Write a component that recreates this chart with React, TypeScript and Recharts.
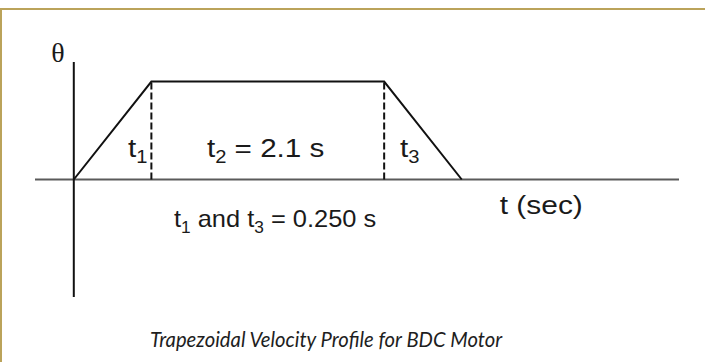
import { LineChart, Line, XAxis, YAxis, ReferenceLine, ReferenceDot } from "recharts";

// trapezoidal profile, schematic time units (drawing is not to scale)
const times = [0, 1, 4, 5];
const theta = [0, 1, 1, 0];
const phaseEdges = [1, 4];

const axisLabel = "t (sec)";
const angleLabel = "θ";
const t2Text = " = 2.1 s";
const t13Text = ["t", "1", " and t", "3", " = 0.250 s"];
const caption = "Trapezoidal Velocity Profile for BDC Motor";

const data = times.map((t, i) => ({ t, v: theta[i] }));

const ink = "#1a1a1a";
const sans = "'Liberation Sans', Arial, sans-serif";

type Piece = { s: string; sub?: boolean };

const Txt = ({ cx, cy, pieces, size = 26, sx = 1.14, font = sans, anchor = "start" }: any) => (
  <text
    transform={`translate(${cx},${cy}) scale(${sx},1)`}
    x={0}
    y={0}
    fill={ink}
    fontSize={size}
    fontFamily={font}
    textAnchor={anchor}
    style={{ whiteSpace: "pre" }}
  >
    {(pieces as Piece[]).map((p, i) => (
      <tspan
        key={i}
        fontSize={p.sub ? size * 0.68 : size}
        dy={p.sub ? 6 : i > 0 && (pieces as Piece[])[i - 1].sub ? -6 : 0}
      >
        {p.s}
      </tspan>
    ))}
  </text>
);

export default function App() {
  return (
    <div style={{ position: "absolute", left: 0, top: 0, width: 705, height: 362, background: "#fff" }}>
      <div
        style={{
          position: "absolute",
          left: 0,
          top: 8,
          width: 705,
          height: 354,
          borderTop: "2px solid #bba35a",
          borderLeft: "2px solid #bba35a",
          boxSizing: "border-box",
        }}
      />
      <LineChart
        width={705}
        height={362}
        data={data}
        margin={{ top: 62, right: 26, bottom: 65, left: 35 }}
        style={{ position: "absolute", left: 0, top: 0 }}
      >
        <XAxis type="number" dataKey="t" domain={[-0.5, 7.8]} hide />
        <YAxis type="number" domain={[-1.2, 1.2]} hide />
        <ReferenceLine
          segment={[{ x: -0.5, y: 0 }, { x: 7.8, y: 0 }]}
          stroke="#5a5a5a"
          strokeWidth={2}
          ifOverflow="visible"
        />
        <ReferenceLine
          segment={[{ x: 0, y: -1.2 }, { x: 0, y: 1.2 }]}
          stroke="#111"
          strokeWidth={2}
          ifOverflow="visible"
        />
        {phaseEdges.map((x) => (
          <ReferenceLine
            key={x}
            segment={[{ x, y: 0 }, { x, y: 1 }]}
            stroke="#111"
            strokeWidth={2}
            strokeDasharray="7 3"
            ifOverflow="visible"
          />
        ))}
        <Line
          type="linear"
          dataKey="v"
          stroke="#111"
          strokeWidth={2}
          dot={false}
          isAnimationActive={false}
        />
        <ReferenceDot
          x={-0.204}
          y={1.2}
          r={0}
          ifOverflow="visible"
          shape={(p: any) => (
            <Txt cx={p.cx} cy={p.cy} pieces={[{ s: angleLabel }]} size={28} sx={1} anchor="middle" font="'Liberation Serif', 'Times New Roman', serif" />
          )}
        />
        <ReferenceDot
          x={0.698}
          y={0.231}
          r={0}
          ifOverflow="visible"
          shape={(p: any) => <Txt cx={p.cx} cy={p.cy} pieces={[{ s: "t" }, { s: "1", sub: true }]} />}
        />
        <ReferenceDot
          x={1.716}
          y={0.231}
          r={0}
          ifOverflow="visible"
          shape={(p: any) => <Txt cx={p.cx} cy={p.cy} pieces={[{ s: "t" }, { s: "2", sub: true }, { s: t2Text }]} />}
        />
        <ReferenceDot
          x={4.204}
          y={0.231}
          r={0}
          ifOverflow="visible"
          shape={(p: any) => <Txt cx={p.cx} cy={p.cy} pieces={[{ s: "t" }, { s: "3", sub: true }]} />}
        />
        <ReferenceDot
          x={5.49}
          y={-0.352}
          r={0}
          ifOverflow="visible"
          shape={(p: any) => <Txt cx={p.cx} cy={p.cy} pieces={[{ s: axisLabel }]} size={26} sx={1.15} />}
        />
        <ReferenceDot
          x={1.291}
          y={-0.485}
          r={0}
          ifOverflow="visible"
          shape={(p: any) => (
            <Txt
              cx={p.cx}
              cy={p.cy}
              pieces={t13Text.map((s, i) => ({ s, sub: i % 2 === 1 }))}
              size={24}
              sx={1.06}
            />
          )}
        />
      </LineChart>
      <div
        style={{
          position: "absolute",
          left: 150,
          top: 328,
          fontFamily: "Lato, 'Open Sans', sans-serif",
          fontStyle: "italic",
          fontSize: 22,
          lineHeight: "22px",
          color: "#1e1e1e",
          whiteSpace: "nowrap",
          transform: "scaleX(0.92)",
          transformOrigin: "left top",
        }}
      >
        {caption}
      </div>
    </div>
  );
}
